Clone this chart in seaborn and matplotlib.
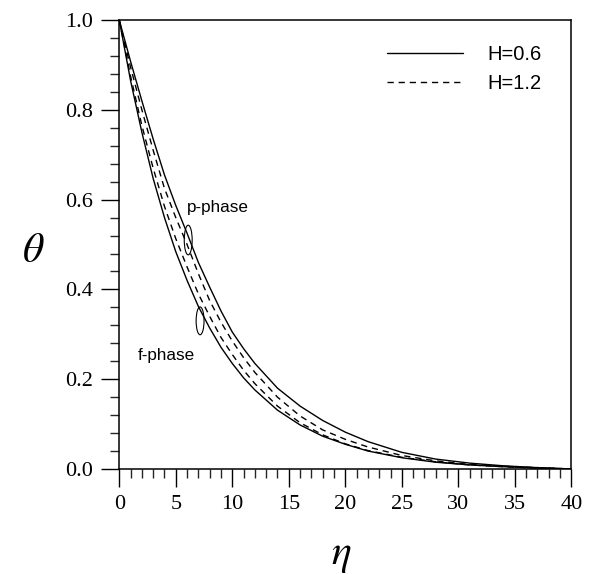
import numpy as np
import pandas as pd
import matplotlib
matplotlib.use('Agg')
import matplotlib.pyplot as plt
import seaborn as sns
from matplotlib.lines import Line2D
from matplotlib.patches import Ellipse

# data (temperature profiles)
eta = [0, 1, 2, 3, 4, 5, 6, 7, 8, 9, 10, 11, 12, 14, 16, 18, 20, 22, 25, 28, 31, 34, 37, 40]
f_h06 = [1.0, 0.865, 0.75, 0.647, 0.56, 0.484, 0.42, 0.362, 0.314, 0.271, 0.235, 0.203, 0.176,
         0.131, 0.098, 0.073, 0.055, 0.040, 0.025, 0.015, 0.009, 0.005, 0.002, 0.0]
f_h12 = [1.0, 0.875, 0.765, 0.67, 0.585, 0.513, 0.45, 0.39, 0.34, 0.293, 0.255, 0.22, 0.19,
         0.14, 0.103, 0.076, 0.056, 0.041, 0.026, 0.016, 0.009, 0.005, 0.002, 0.0]
p_h06 = [1.0, 0.908, 0.82, 0.735, 0.655, 0.587, 0.525, 0.46, 0.405, 0.352, 0.305, 0.268, 0.235,
         0.18, 0.14, 0.108, 0.082, 0.061, 0.037, 0.022, 0.013, 0.007, 0.003, 0.0]
p_h12 = [1.0, 0.895, 0.80, 0.71, 0.625, 0.56, 0.50, 0.435, 0.375, 0.327, 0.285, 0.248, 0.215,
         0.16, 0.118, 0.087, 0.066, 0.049, 0.030, 0.018, 0.010, 0.006, 0.003, 0.0]

series = {('f', 'H=0.6'): f_h06, ('f', 'H=1.2'): f_h12,
          ('p', 'H=0.6'): p_h06, ('p', 'H=1.2'): p_h12}
rows = []
for (phase, h), vals in series.items():
    for e, t in zip(eta, vals):
        rows.append({'eta': e, 'theta': t, 'phase': phase, 'H': h})
df = pd.DataFrame(rows)

sns.set_style('ticks')
plt.rcParams['font.family'] = ['Liberation Sans', 'DejaVu Sans']
plt.rcParams['mathtext.fontset'] = 'stix'

fig = plt.figure(figsize=(5.89, 5.74), dpi=100)
ax = fig.add_axes([0.2025, 0.183, 0.7675, 0.782])

dash_style = {'H=0.6': '', 'H=1.2': (4.5, 3.5)}
sns.lineplot(data=df, x='eta', y='theta', style='H', units='phase',
             estimator=None, color='black', linewidth=1.0,
             dashes=dash_style, legend=False, ax=ax)

ax.set_xlim(0, 40)
ax.set_ylim(0, 1)
ax.set_xticks(np.arange(0, 41, 5))
ax.set_xticks(np.arange(0, 41, 1), minor=True)
ax.set_yticks(np.arange(0, 1.01, 0.2))
ax.set_yticks(np.arange(0, 1.001, 0.04), minor=True)
ax.set_yticklabels([f'{v:.1f}' for v in np.arange(0, 1.01, 0.2)])

for s in ax.spines.values():
    s.set_linewidth(1.1)
    s.set_color('black')
ax.tick_params(which='major', direction='out', length=13, width=1.0,
               labelsize=16, colors='black', pad=6)
ax.tick_params(which='minor', direction='out', length=6.5, width=1.0)
for lab in ax.get_xticklabels() + ax.get_yticklabels():
    lab.set_family('Liberation Serif')

ax.set_xlabel(r'$\eta$', fontsize=30, color='black')
ax.set_ylabel(r'$\theta$', fontsize=30, rotation=0, color='black')
ax.xaxis.set_label_coords(0.49, -0.148)
ax.yaxis.set_label_coords(-0.19, 0.44)

# phase annotations
ax.add_patch(Ellipse((6.1, 0.51), 0.7, 0.066, angle=0, fill=False,
                     edgecolor='black', linewidth=0.8))
ax.add_patch(Ellipse((7.15, 0.33), 0.7, 0.062, angle=0, fill=False,
                     edgecolor='black', linewidth=0.8))
ax.text(6.0, 0.582, 'p-phase', fontsize=12.3, va='center', ha='left', color='black')
ax.text(1.6, 0.252, 'f-phase', fontsize=12.3, va='center', ha='left', color='black')

handles = [Line2D([], [], color='black', linewidth=1.0, linestyle='-'),
           Line2D([], [], color='black', linewidth=1.0, dashes=(4.5, 3.5))]
leg = ax.legend(handles, ['H=0.6', 'H=1.2'], loc='upper right', frameon=False,
                fontsize=14.5, handlelength=3.8, handletextpad=1.2,
                labelspacing=0.5, bbox_to_anchor=(0.975, 0.985))
for t in leg.get_texts():
    t.set_color('black')

fig.savefig('out.png', dpi=100)
